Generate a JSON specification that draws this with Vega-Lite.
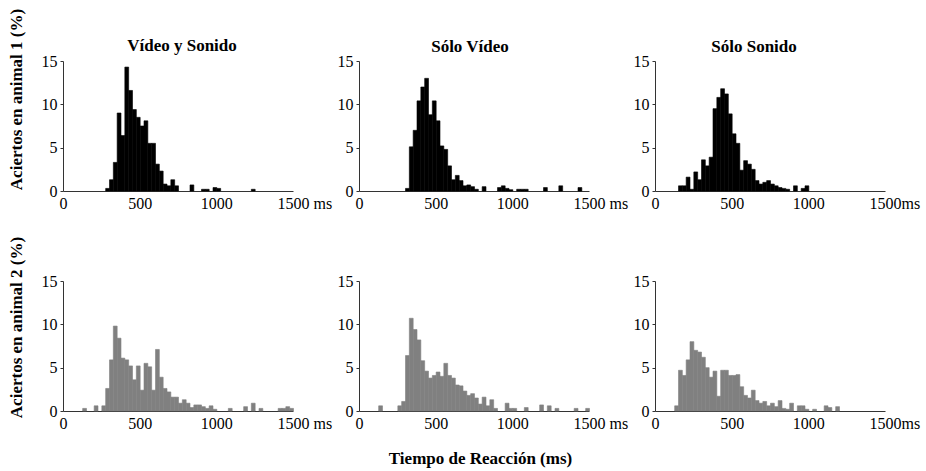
{
  "$schema": "https://vega.github.io/schema/vega-lite/v6.json",
  "padding": {"left": 6, "top": 8, "right": 5, "bottom": 5},
  "background": "white",
  "datasets": {
    "h": [
      {"a":1,"c":"VS","t":275,"e":300,"v":0.3},{"a":1,"c":"VS","t":300,"e":325,"v":1.3},{"a":1,"c":"VS","t":325,"e":350,"v":3.3},{"a":1,"c":"VS","t":350,"e":375,"v":9.0},{"a":1,"c":"VS","t":375,"e":400,"v":6.4},{"a":1,"c":"VS","t":400,"e":425,"v":14.3},{"a":1,"c":"VS","t":425,"e":450,"v":11.6},{"a":1,"c":"VS","t":450,"e":475,"v":9.4},{"a":1,"c":"VS","t":475,"e":500,"v":8.5},{"a":1,"c":"VS","t":500,"e":525,"v":7.5},{"a":1,"c":"VS","t":525,"e":550,"v":8.1},{"a":1,"c":"VS","t":550,"e":575,"v":5.5},{"a":1,"c":"VS","t":575,"e":600,"v":5.5},{"a":1,"c":"VS","t":600,"e":625,"v":3.1},{"a":1,"c":"VS","t":625,"e":650,"v":2.3},{"a":1,"c":"VS","t":650,"e":675,"v":0.8},{"a":1,"c":"VS","t":675,"e":700,"v":0.6},{"a":1,"c":"VS","t":700,"e":725,"v":1.3},{"a":1,"c":"VS","t":725,"e":750,"v":0.6},{"a":1,"c":"VS","t":825,"e":850,"v":0.7},{"a":1,"c":"VS","t":900,"e":925,"v":0.2},{"a":1,"c":"VS","t":925,"e":950,"v":0.2},{"a":1,"c":"VS","t":975,"e":1000,"v":0.4},{"a":1,"c":"VS","t":1000,"e":1025,"v":0.3},{"a":1,"c":"VS","t":1225,"e":1250,"v":0.2},

      {"a":1,"c":"SV","t":300,"e":325,"v":0.3},{"a":1,"c":"SV","t":325,"e":350,"v":5.1},{"a":1,"c":"SV","t":350,"e":375,"v":7.0},{"a":1,"c":"SV","t":375,"e":400,"v":10.4},{"a":1,"c":"SV","t":400,"e":425,"v":12.0},{"a":1,"c":"SV","t":425,"e":450,"v":13.0},{"a":1,"c":"SV","t":450,"e":475,"v":8.8},{"a":1,"c":"SV","t":475,"e":500,"v":10.4},{"a":1,"c":"SV","t":500,"e":525,"v":8.1},{"a":1,"c":"SV","t":525,"e":550,"v":5.2},{"a":1,"c":"SV","t":550,"e":575,"v":4.8},{"a":1,"c":"SV","t":575,"e":600,"v":2.9},{"a":1,"c":"SV","t":600,"e":625,"v":1.3},{"a":1,"c":"SV","t":625,"e":650,"v":1.8},{"a":1,"c":"SV","t":650,"e":675,"v":1.2},{"a":1,"c":"SV","t":675,"e":700,"v":0.6},{"a":1,"c":"SV","t":700,"e":725,"v":0.7},{"a":1,"c":"SV","t":725,"e":750,"v":0.5},{"a":1,"c":"SV","t":750,"e":775,"v":0.2},{"a":1,"c":"SV","t":800,"e":825,"v":0.5},{"a":1,"c":"SV","t":900,"e":925,"v":0.4},{"a":1,"c":"SV","t":925,"e":950,"v":0.6},{"a":1,"c":"SV","t":950,"e":975,"v":0.3},{"a":1,"c":"SV","t":975,"e":1000,"v":0.15},{"a":1,"c":"SV","t":1025,"e":1050,"v":0.2},{"a":1,"c":"SV","t":1050,"e":1075,"v":0.2},{"a":1,"c":"SV","t":1075,"e":1100,"v":0.2},{"a":1,"c":"SV","t":1200,"e":1225,"v":0.4},{"a":1,"c":"SV","t":1300,"e":1325,"v":0.6},{"a":1,"c":"SV","t":1425,"e":1450,"v":0.4},

      {"a":1,"c":"SS","t":150,"e":175,"v":0.6},{"a":1,"c":"SS","t":175,"e":200,"v":0.6},{"a":1,"c":"SS","t":200,"e":225,"v":1.6},{"a":1,"c":"SS","t":225,"e":250,"v":0.2},{"a":1,"c":"SS","t":250,"e":275,"v":2.2},{"a":1,"c":"SS","t":275,"e":300,"v":1.3},{"a":1,"c":"SS","t":300,"e":325,"v":3.6},{"a":1,"c":"SS","t":325,"e":350,"v":2.9},{"a":1,"c":"SS","t":350,"e":375,"v":3.9},{"a":1,"c":"SS","t":375,"e":400,"v":9.5},{"a":1,"c":"SS","t":400,"e":425,"v":10.8},{"a":1,"c":"SS","t":425,"e":450,"v":11.8},{"a":1,"c":"SS","t":450,"e":475,"v":11.2},{"a":1,"c":"SS","t":475,"e":500,"v":8.9},{"a":1,"c":"SS","t":500,"e":525,"v":6.6},{"a":1,"c":"SS","t":525,"e":550,"v":5.5},{"a":1,"c":"SS","t":550,"e":575,"v":2.4},{"a":1,"c":"SS","t":575,"e":600,"v":3.5},{"a":1,"c":"SS","t":600,"e":625,"v":3.1},{"a":1,"c":"SS","t":625,"e":650,"v":2.5},{"a":1,"c":"SS","t":650,"e":675,"v":1.2},{"a":1,"c":"SS","t":675,"e":700,"v":0.8},{"a":1,"c":"SS","t":700,"e":725,"v":1.0},{"a":1,"c":"SS","t":725,"e":750,"v":1.2},{"a":1,"c":"SS","t":750,"e":775,"v":0.8},{"a":1,"c":"SS","t":775,"e":800,"v":0.6},{"a":1,"c":"SS","t":800,"e":825,"v":0.4},{"a":1,"c":"SS","t":825,"e":850,"v":0.3},{"a":1,"c":"SS","t":850,"e":875,"v":0.2},{"a":1,"c":"SS","t":900,"e":925,"v":0.6},{"a":1,"c":"SS","t":950,"e":975,"v":0.3},{"a":1,"c":"SS","t":975,"e":1000,"v":0.6},

      {"a":2,"c":"VS","t":125,"e":150,"v":0.3},{"a":2,"c":"VS","t":200,"e":225,"v":0.6},{"a":2,"c":"VS","t":250,"e":275,"v":0.6},{"a":2,"c":"VS","t":275,"e":300,"v":2.6},{"a":2,"c":"VS","t":300,"e":325,"v":5.9},{"a":2,"c":"VS","t":325,"e":350,"v":9.8},{"a":2,"c":"VS","t":350,"e":375,"v":8.4},{"a":2,"c":"VS","t":375,"e":400,"v":6.1},{"a":2,"c":"VS","t":400,"e":425,"v":5.9},{"a":2,"c":"VS","t":425,"e":450,"v":5.2},{"a":2,"c":"VS","t":450,"e":475,"v":3.6},{"a":2,"c":"VS","t":475,"e":500,"v":5.2},{"a":2,"c":"VS","t":500,"e":525,"v":2.4},{"a":2,"c":"VS","t":525,"e":550,"v":5.5},{"a":2,"c":"VS","t":550,"e":575,"v":5.1},{"a":2,"c":"VS","t":575,"e":600,"v":2.4},{"a":2,"c":"VS","t":600,"e":625,"v":7.1},{"a":2,"c":"VS","t":625,"e":650,"v":3.9},{"a":2,"c":"VS","t":650,"e":675,"v":2.6},{"a":2,"c":"VS","t":675,"e":700,"v":2.2},{"a":2,"c":"VS","t":700,"e":725,"v":1.6},{"a":2,"c":"VS","t":725,"e":750,"v":1.6},{"a":2,"c":"VS","t":750,"e":775,"v":0.9},{"a":2,"c":"VS","t":775,"e":800,"v":1.3},{"a":2,"c":"VS","t":800,"e":825,"v":0.9},{"a":2,"c":"VS","t":825,"e":850,"v":0.4},{"a":2,"c":"VS","t":850,"e":875,"v":0.7},{"a":2,"c":"VS","t":875,"e":900,"v":0.7},{"a":2,"c":"VS","t":900,"e":925,"v":0.5},{"a":2,"c":"VS","t":925,"e":950,"v":0.3},{"a":2,"c":"VS","t":950,"e":975,"v":0.6},{"a":2,"c":"VS","t":975,"e":1000,"v":0.2},{"a":2,"c":"VS","t":1075,"e":1100,"v":0.3},{"a":2,"c":"VS","t":1175,"e":1200,"v":0.5},{"a":2,"c":"VS","t":1225,"e":1250,"v":0.9},{"a":2,"c":"VS","t":1275,"e":1300,"v":0.3},{"a":2,"c":"VS","t":1400,"e":1425,"v":0.3},{"a":2,"c":"VS","t":1425,"e":1450,"v":0.3},{"a":2,"c":"VS","t":1450,"e":1475,"v":0.5},{"a":2,"c":"VS","t":1475,"e":1500,"v":0.3},

      {"a":2,"c":"SV","t":125,"e":150,"v":0.6},{"a":2,"c":"SV","t":250,"e":275,"v":0.6},{"a":2,"c":"SV","t":275,"e":300,"v":1.1},{"a":2,"c":"SV","t":300,"e":325,"v":6.4},{"a":2,"c":"SV","t":325,"e":350,"v":10.7},{"a":2,"c":"SV","t":350,"e":375,"v":9.4},{"a":2,"c":"SV","t":375,"e":400,"v":8.2},{"a":2,"c":"SV","t":400,"e":425,"v":5.8},{"a":2,"c":"SV","t":425,"e":450,"v":4.6},{"a":2,"c":"SV","t":450,"e":475,"v":3.8},{"a":2,"c":"SV","t":475,"e":500,"v":4.1},{"a":2,"c":"SV","t":500,"e":525,"v":4.5},{"a":2,"c":"SV","t":525,"e":550,"v":4.0},{"a":2,"c":"SV","t":550,"e":575,"v":5.5},{"a":2,"c":"SV","t":575,"e":600,"v":4.1},{"a":2,"c":"SV","t":600,"e":625,"v":3.8},{"a":2,"c":"SV","t":625,"e":650,"v":3.0},{"a":2,"c":"SV","t":650,"e":675,"v":2.9},{"a":2,"c":"SV","t":675,"e":700,"v":2.3},{"a":2,"c":"SV","t":700,"e":725,"v":1.8},{"a":2,"c":"SV","t":725,"e":750,"v":2.0},{"a":2,"c":"SV","t":750,"e":775,"v":1.5},{"a":2,"c":"SV","t":775,"e":800,"v":0.8},{"a":2,"c":"SV","t":800,"e":825,"v":1.6},{"a":2,"c":"SV","t":825,"e":850,"v":0.6},{"a":2,"c":"SV","t":850,"e":875,"v":1.3},{"a":2,"c":"SV","t":875,"e":900,"v":0.3},{"a":2,"c":"SV","t":950,"e":975,"v":0.9},{"a":2,"c":"SV","t":975,"e":1000,"v":0.3},{"a":2,"c":"SV","t":1000,"e":1025,"v":0.3},{"a":2,"c":"SV","t":1075,"e":1100,"v":0.4},{"a":2,"c":"SV","t":1175,"e":1200,"v":0.7},{"a":2,"c":"SV","t":1225,"e":1250,"v":0.6},{"a":2,"c":"SV","t":1275,"e":1300,"v":0.3},{"a":2,"c":"SV","t":1400,"e":1425,"v":0.3},{"a":2,"c":"SV","t":1475,"e":1500,"v":0.3},

      {"a":2,"c":"SS","t":125,"e":150,"v":0.6},{"a":2,"c":"SS","t":150,"e":175,"v":4.7},{"a":2,"c":"SS","t":175,"e":200,"v":4.1},{"a":2,"c":"SS","t":200,"e":225,"v":5.9},{"a":2,"c":"SS","t":225,"e":250,"v":8.0},{"a":2,"c":"SS","t":250,"e":275,"v":7.0},{"a":2,"c":"SS","t":275,"e":300,"v":6.8},{"a":2,"c":"SS","t":300,"e":325,"v":6.2},{"a":2,"c":"SS","t":325,"e":350,"v":5.0},{"a":2,"c":"SS","t":350,"e":375,"v":3.9},{"a":2,"c":"SS","t":375,"e":400,"v":4.6},{"a":2,"c":"SS","t":400,"e":425,"v":1.7},{"a":2,"c":"SS","t":425,"e":450,"v":4.7},{"a":2,"c":"SS","t":450,"e":475,"v":4.7},{"a":2,"c":"SS","t":475,"e":500,"v":4.1},{"a":2,"c":"SS","t":500,"e":525,"v":4.1},{"a":2,"c":"SS","t":525,"e":550,"v":4.2},{"a":2,"c":"SS","t":550,"e":575,"v":2.8},{"a":2,"c":"SS","t":575,"e":600,"v":1.8},{"a":2,"c":"SS","t":600,"e":625,"v":1.5},{"a":2,"c":"SS","t":625,"e":650,"v":2.4},{"a":2,"c":"SS","t":650,"e":675,"v":1.2},{"a":2,"c":"SS","t":675,"e":700,"v":0.9},{"a":2,"c":"SS","t":700,"e":725,"v":1.1},{"a":2,"c":"SS","t":725,"e":750,"v":0.6},{"a":2,"c":"SS","t":750,"e":775,"v":0.9},{"a":2,"c":"SS","t":775,"e":800,"v":0.5},{"a":2,"c":"SS","t":800,"e":825,"v":1.2},{"a":2,"c":"SS","t":825,"e":850,"v":0.3},{"a":2,"c":"SS","t":850,"e":875,"v":0.2},{"a":2,"c":"SS","t":875,"e":900,"v":0.9},{"a":2,"c":"SS","t":925,"e":950,"v":0.6},{"a":2,"c":"SS","t":950,"e":975,"v":0.6},{"a":2,"c":"SS","t":975,"e":1000,"v":0.2},{"a":2,"c":"SS","t":1025,"e":1050,"v":0.2},{"a":2,"c":"SS","t":1100,"e":1125,"v":0.6},{"a":2,"c":"SS","t":1125,"e":1150,"v":0.4},{"a":2,"c":"SS","t":1175,"e":1200,"v":0.5}
    ]
  },
  "columns": 3,
  "spacing": {"row": 90, "column": 66},
  "bounds": "flush",
  "concat": [
    {
      "width": 230, "height": 130,
      "title": {"text": "Vídeo y Sonido", "dx": 4, "offset": -47},
      "data": {"name": "h"},
      "transform": [{"filter": "datum.a == 1 && datum.c == 'VS'"}],
      "mark": {"type": "bar", "color": "#000000", "stroke": "#000000", "strokeWidth": 0.6, "binSpacing": 0},
      "encoding": {
        "x": {"field": "t", "type": "quantitative", "bin": {"binned": true, "step": 25}, "scale": {"domain": [0, 1500], "nice": false},
              "axis": {"title": null, "values": [0, 500, 1000, 1500], "format": "d", "labelExpr": "datum.value == 1500 ? '1500 ms' : datum.label"}},
        "x2": {"field": "e"},
        "y": {"field": "v", "type": "quantitative", "scale": {"domain": [0, 15], "nice": false},
              "axis": {"title": "Aciertos en animal 1 (%)", "titleX": -42, "titleY": 38, "values": [0, 5, 10, 15]}}
      }
    },
    {
      "width": 230, "height": 130,
      "title": {"text": "Sólo Vídeo", "dx": -4, "offset": -3},
      "data": {"name": "h"},
      "transform": [{"filter": "datum.a == 1 && datum.c == 'SV'"}],
      "mark": {"type": "bar", "color": "#000000", "stroke": "#000000", "strokeWidth": 0.6, "binSpacing": 0},
      "encoding": {
        "x": {"field": "t", "type": "quantitative", "bin": {"binned": true, "step": 25}, "scale": {"domain": [0, 1500], "nice": false},
              "axis": {"title": null, "values": [0, 500, 1000, 1500], "format": "d", "labelExpr": "datum.value == 1500 ? '1500 ms' : datum.label"}},
        "x2": {"field": "e"},
        "y": {"field": "v", "type": "quantitative", "scale": {"domain": [0, 15], "nice": false},
              "axis": {"title": null, "values": [0, 5, 10, 15]}}
      }
    },
    {
      "width": 230, "height": 130,
      "title": {"text": "Sólo Sonido", "dx": -16, "offset": -3},
      "data": {"name": "h"},
      "transform": [{"filter": "datum.a == 1 && datum.c == 'SS'"}],
      "mark": {"type": "bar", "color": "#000000", "stroke": "#000000", "strokeWidth": 0.6, "binSpacing": 0},
      "encoding": {
        "x": {"field": "t", "type": "quantitative", "bin": {"binned": true, "step": 25}, "scale": {"domain": [0, 1500], "nice": false},
              "axis": {"title": null, "values": [0, 500, 1000, 1500], "format": "d", "labelExpr": "datum.value == 1500 ? '1500ms' : datum.label"}},
        "x2": {"field": "e"},
        "y": {"field": "v", "type": "quantitative", "scale": {"domain": [0, 15], "nice": false},
              "axis": {"title": null, "values": [0, 5, 10, 15]}}
      }
    },
    {
      "width": 230, "height": 130,
      "data": {"name": "h"},
      "transform": [{"filter": "datum.a == 2 && datum.c == 'VS'"}],
      "mark": {"type": "bar", "color": "#808080", "stroke": "#808080", "strokeWidth": 0.6, "binSpacing": 0},
      "encoding": {
        "x": {"field": "t", "type": "quantitative", "bin": {"binned": true, "step": 25}, "scale": {"domain": [0, 1500], "nice": false},
              "axis": {"title": null, "values": [0, 500, 1000, 1500], "format": "d", "labelExpr": "datum.value == 1500 ? '1500 ms' : datum.label"}},
        "x2": {"field": "e"},
        "y": {"field": "v", "type": "quantitative", "scale": {"domain": [0, 15], "nice": false},
              "axis": {"title": "Aciertos en animal 2 (%)", "titleX": -42, "titleY": 46, "values": [0, 5, 10, 15]}}
      }
    },
    {
      "width": 230, "height": 130,
      "data": {"name": "h"},
      "transform": [{"filter": "datum.a == 2 && datum.c == 'SV'"}],
      "mark": {"type": "bar", "color": "#808080", "stroke": "#808080", "strokeWidth": 0.6, "binSpacing": 0},
      "encoding": {
        "x": {"field": "t", "type": "quantitative", "bin": {"binned": true, "step": 25}, "scale": {"domain": [0, 1500], "nice": false},
              "axis": {"title": "Tiempo de Reacción (ms)", "titleX": 121, "titleY": 52, "titleBaseline": "alphabetic", "titleAlign": "center", "titleAngle": 0,
                       "values": [0, 500, 1000, 1500], "format": "d", "labelExpr": "datum.value == 1500 ? '1500 ms' : datum.label"}},
        "x2": {"field": "e"},
        "y": {"field": "v", "type": "quantitative", "scale": {"domain": [0, 15], "nice": false},
              "axis": {"title": null, "values": [0, 5, 10, 15]}}
      }
    },
    {
      "width": 230, "height": 130,
      "data": {"name": "h"},
      "transform": [{"filter": "datum.a == 2 && datum.c == 'SS'"}],
      "mark": {"type": "bar", "color": "#808080", "stroke": "#808080", "strokeWidth": 0.6, "binSpacing": 0},
      "encoding": {
        "x": {"field": "t", "type": "quantitative", "bin": {"binned": true, "step": 25}, "scale": {"domain": [0, 1500], "nice": false},
              "axis": {"title": null, "values": [0, 500, 1000, 1500], "format": "d", "labelExpr": "datum.value == 1500 ? '1500ms' : datum.label"}},
        "x2": {"field": "e"},
        "y": {"field": "v", "type": "quantitative", "scale": {"domain": [0, 15], "nice": false},
              "axis": {"title": null, "values": [0, 5, 10, 15]}}
      }
    }
  ],
  "config": {
    "view": {"stroke": null},
    "font": "Liberation Serif",
    "title": {"font": "Liberation Serif", "fontSize": 17, "fontWeight": "bold", "color": "#000000", "baseline": "alphabetic", "offset": 8, "frame": "group", "anchor": "middle"},
    "axis": {
      "labelFont": "Liberation Serif", "labelFontSize": 16, "labelColor": "#000000",
      "titleFont": "Liberation Serif", "titleFontSize": 17, "titleFontWeight": "bold", "titleColor": "#000000",
      "grid": false, "domainColor": "#333333", "tickColor": "#333333", "domainWidth": 1
    },
    "axisX": {
      "ticks": false, "labelPadding": 4,
      "labelFlush": false, "labelOverlap": false,
      "labelAlign": {"condition": {"test": "datum.value == 1500", "value": "left"}, "value": "center"},
      "labelOffset": {"condition": {"test": "datum.value == 1500", "value": -16}, "value": 0}
    },
    "axisY": {
      "tickSize": 3, "labelPadding": 3, "labelBaseline": "middle",
      "titleBaseline": "alphabetic", "titleAlign": "center", "titleAngle": -90
    }
  }
}
